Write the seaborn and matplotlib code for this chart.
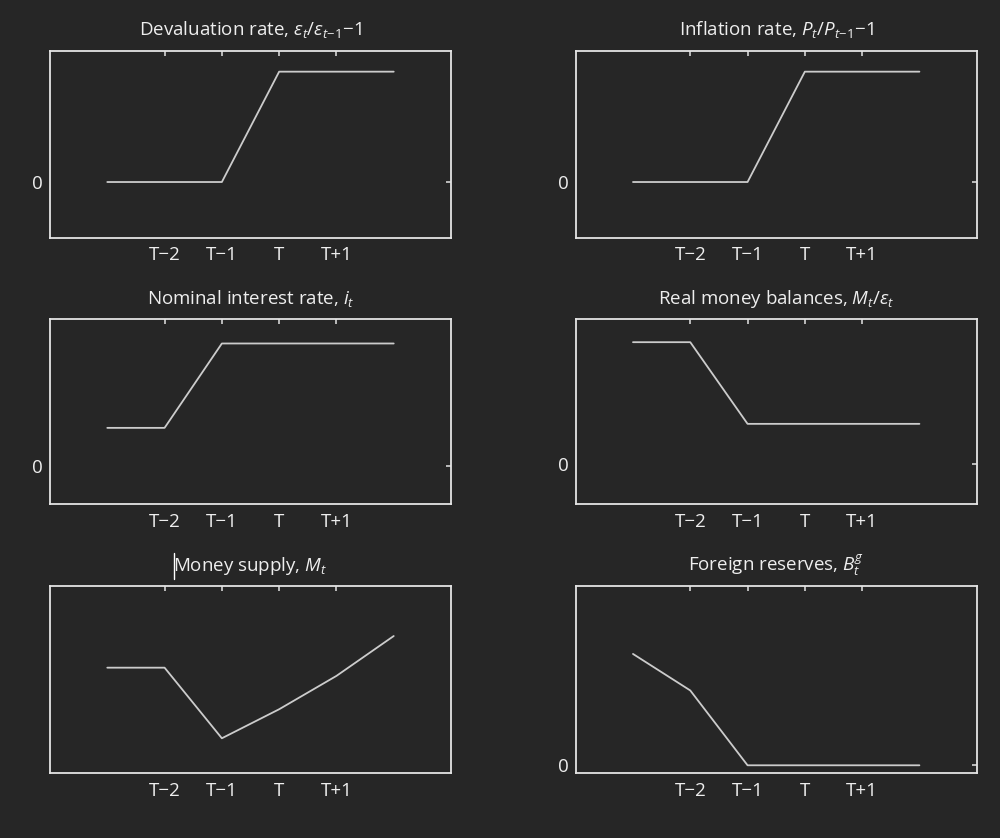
import matplotlib
matplotlib.use("Agg")
import matplotlib.pyplot as plt
from matplotlib.lines import Line2D
import seaborn as sns
import pandas as pd

# ---- data ----
periods = [-3, -2, -1, 0, 1, 2]
tick_pos = [-2, -1, 0, 1]
tick_labels = ["T\u22122", "T\u22121", "T", "T+1"]

devaluation = [0, 0, 0, 1, 1, 1]
inflation = [0, 0, 0, 1, 1, 1]
interest = [0.31, 0.31, 1, 1, 1, 1]
real_money = [1, 1, 0.33, 0.33, 0.33, 0.33]
money_supply = [0.564, 0.564, 0.187, 0.342, 0.52, 0.733]
reserves = [1, 0.672, 0, 0, 0, 0]

titles = [
    r"Devaluation rate, $\varepsilon_t/\varepsilon_{t\!-\!1}$" + "\u22121",
    r"Inflation rate, $P_t/P_{t\!-\!1}$" + "\u22121",
    r"Nominal interest rate, $i_t$",
    r"Real money balances, $M_t/\varepsilon_t$",
    r"Money supply, $M_t$",
    r"Foreign reserves, $B^g_t$",
]
series = [devaluation, inflation, interest, real_money, money_supply, reserves]
ylims = [(-0.505, 1.19), (-0.505, 1.19), (-0.315, 1.2), (-0.33, 1.19), (0, 1), (-0.072, 1.61)]
show_zero = [True, True, True, True, False, True]

BG = "#262626"
LINE = "#cccccc"
FRAME = "#e4e4e4"
TEXT = "#eeeeee"

sns.set_theme(style="dark")
plt.rcParams.update({
    "font.family": ["Open Sans", "DejaVu Sans"],
    "mathtext.fontset": "custom",
    "mathtext.rm": "Open Sans",
    "mathtext.it": "Open Sans:italic",
    "mathtext.bf": "Open Sans:bold",
    "figure.facecolor": BG,
    "axes.facecolor": BG,
    "savefig.facecolor": BG,
    "text.color": TEXT,
    "xtick.color": FRAME,
    "ytick.color": FRAME,
    "xtick.labelcolor": TEXT,
    "ytick.labelcolor": TEXT,
    "axes.edgecolor": FRAME,
    "axes.grid": False,
})

fig = plt.figure(figsize=(10, 8.38), dpi=100)

lefts = [0.050, 0.5757]
rows = [(0.7163, 0.2232), (0.3982, 0.2211), (0.0772, 0.2235)]

for i, (title, vals, yl, z) in enumerate(zip(titles, series, ylims, show_zero)):
    r, c = divmod(i, 2)
    b, h = rows[r]
    ax = fig.add_axes([lefts[c], b, 0.401, h])
    df = pd.DataFrame({"t": periods, "v": vals})
    sns.lineplot(data=df, x="t", y="v", ax=ax, color=LINE, linewidth=1.3)
    ax.set_xlim(-4, 3)
    ax.set_ylim(*yl)
    ax.set_xticks(tick_pos)
    ax.set_xticklabels(tick_labels)
    if z:
        ax.set_yticks([0])
        ax.set_yticklabels(["0"])
    else:
        ax.set_yticks([])
    ax.set_xlabel("")
    ax.set_ylabel("")
    ax.tick_params(axis="both", direction="in", length=3.5, width=1.1,
                   top=True, right=True, labelsize=13.5, colors=FRAME,
                   labelcolor=TEXT)
    ax.tick_params(axis="x", pad=6)
    ax.tick_params(axis="y", pad=5)
    for s in ax.spines.values():
        s.set_color(FRAME)
        s.set_linewidth(1.3)
        s.set_visible(True)
    ax.set_title(title, fontsize=13.5, color=TEXT, pad=11)

# text cursor artefact next to the "Money supply" title
fig.add_artist(Line2D([0.1743, 0.1743], [0.3094, 0.3405], transform=fig.transFigure,
                      color="#ffffff", linewidth=1.0))

fig.savefig("out.png", dpi=100)
